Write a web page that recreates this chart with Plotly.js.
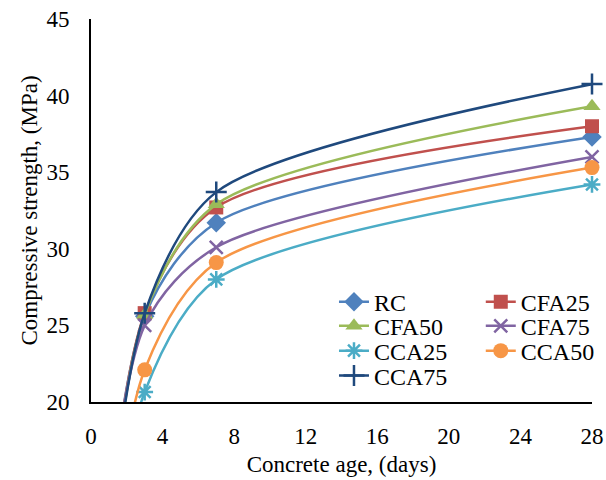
<!DOCTYPE html>
<html>
<head>
<meta charset="utf-8">
<script src="https://cdn.plot.ly/plotly-3.0.1.min.js"></script>
<style>html,body{margin:0;padding:0;background:#fff;}#chart{width:606px;height:480px;}</style>
</head>
<body>
<div id="chart"></div>
<script>
// Concrete age (days); day 0 = 0 MPa is the curves' off-axis origin
var ageDays = [0, 3, 7, 28];
var RC    = [0, 25.6, 31.7, 37.3];
var CFA25 = [0, 25.8, 32.7, 38.0];
var CFA50 = [0, 25.7, 32.9, 39.3];
var CFA75 = [0, 25.0, 30.1, 36.0];
var CCA25 = [0, 20.65, 28.0, 34.2];
var CCA50 = [0, 22.1, 29.1, 35.3];
var CCA75 = [0, 25.8, 33.7, 40.75];
var xTicks = [0, 4, 8, 12, 16, 20, 24, 28];
var yTicks = [20, 25, 30, 35, 40, 45];

var serif = 'Liberation Serif';
function f(size) { return {family: serif, size: size, color: '#000'}; }

function tr(name, y, color, symbol, size, legend, open) {
  return {
    x: ageDays, y: y, name: name, type: 'scatter', mode: 'lines+markers',
    legend: legend,
    line: {color: color, width: 2.5, shape: 'spline', smoothing: 0.8},
    marker: open ? {symbol: symbol, size: size, color: color, line: {color: color, width: 2.5}}
                 : {symbol: symbol, size: size, color: color, line: {width: 0}},
    hoverinfo: 'skip', cliponaxis: false
  };
}

var data = [
  tr('RC', RC, '#4F81BD', 'diamond', 15, 'legend', false),
  tr('CFA25', CFA25, '#C0504D', 'square', 14, 'legend5', false),
  tr('CFA50', CFA50, '#9BBB59', 'triangle-up', 15, 'legend2', false),
  tr('CFA75', CFA75, '#8064A2', 'x-thin-open', 13, 'legend6', true),
  tr('CCA25', CCA25, '#4BACC6', 'asterisk-open', 14, 'legend3', true),
  tr('CCA50', CCA50, '#F79646', 'circle', 15, 'legend7', false),
  tr('CCA75', CCA75, '#1F497D', 'cross-thin-open', 15, 'legend4', true)
];

function leg(x, y) {
  return {
    font: f(24), bgcolor: 'rgba(0,0,0,0)', borderwidth: 0,
    orientation: 'v', x: x, y: y, xanchor: 'left', yanchor: 'middle'
  };
}

var col1 = 0.485, col2 = 0.778;
var layout = {
  width: 606, height: 480,
  margin: {l: 91, r: 14, t: 19, b: 78, autoexpand: false},
  paper_bgcolor: '#fff', plot_bgcolor: '#fff',
  font: f(23),
  showlegend: true,
  xaxis: {
    range: [0, 28], tickvals: xTicks, ticktext: xTicks.map(String),
    showgrid: false, zeroline: false, showline: true, linecolor: '#000', linewidth: 2,
    ticks: '', ticklabelstandoff: 12,
    tickfont: f(23),
    title: {text: 'Concrete age, (days)', font: f(23), standoff: 8}
  },
  yaxis: {
    range: [20, 45], tickvals: yTicks, ticktext: yTicks.map(String),
    showgrid: false, zeroline: false, showline: true, linecolor: '#000', linewidth: 2,
    ticks: '', ticklabelstandoff: 15,
    tickfont: f(23),
    title: {text: 'Compressive strength, (MPa)', font: f(23), standoff: 2}
  },
  legend: leg(col1, 0.261),
  legend2: leg(col1, 0.198),
  legend3: leg(col1, 0.133),
  legend4: leg(col1, 0.068),
  legend5: leg(col2, 0.261),
  legend6: leg(col2, 0.198),
  legend7: leg(col2, 0.133)
};

Plotly.newPlot('chart', data, layout, {displayModeBar: false, staticPlot: true});
</script>
</body>
</html>
